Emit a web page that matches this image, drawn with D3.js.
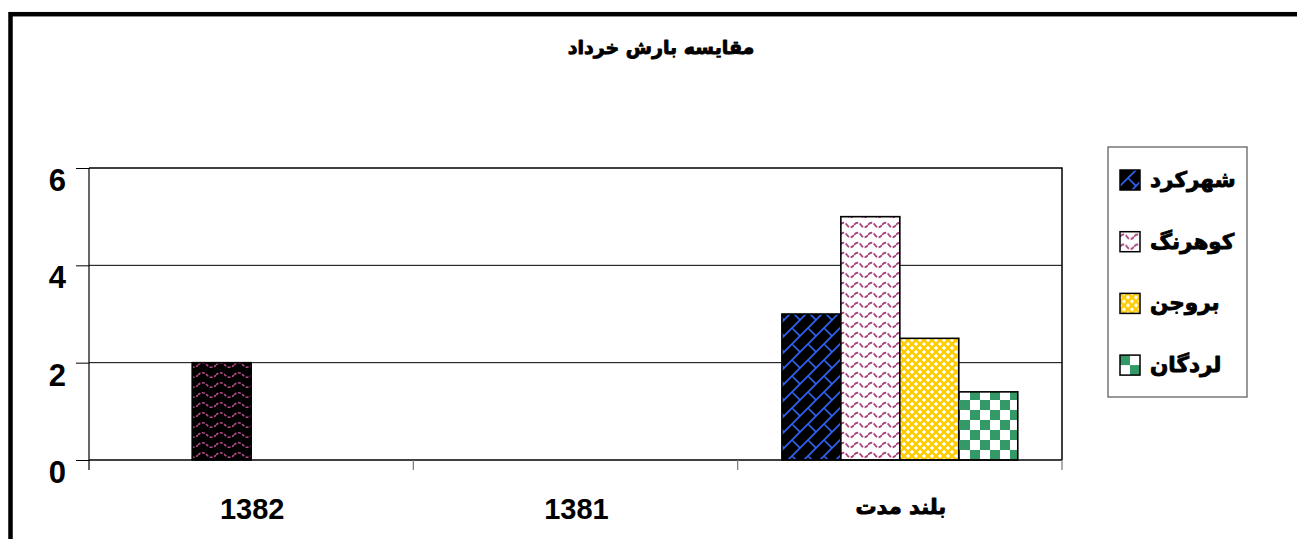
<!DOCTYPE html>
<html><head><meta charset="utf-8">
<script src="https://cdn.jsdelivr.net/npm/d3@7"></script>
<style>html,body{margin:0;padding:0;background:#fff;overflow:hidden}</style>
</head><body>
<svg id="c" width="1297" height="539"></svg>
<script>
const title = "مقایسه بارش خرداد";
const categories = ["1382", "1381", "بلند مدت"];
const seriesNames = ["شهرکرد", "کوهرنگ", "بروجن", "لردگان"];
const shahrekord = [0, 0, 3];
const kouhrang = [2, 0, 5];
const boroujen = [0, 0, 2.5];
const lordegan = [0, 0, 1.4];
const yTicks = [0, 2, 4, 6];
const seriesValues = [shahrekord, kouhrang, boroujen, lordegan];

const svg = d3.select("#c");
const defs = svg.append("defs");

function pat(id, w, h, bg, draw) {
  const p = defs.append("pattern").attr("id", id).attr("patternUnits", "userSpaceOnUse")
    .attr("width", w).attr("height", h);
  p.append("rect").attr("width", w).attr("height", h).attr("fill", bg);
  draw(p);
}
// diagonal brick, blue on black
pat("p0", 16, 16, "#000", p => {
  const add = d => p.append("path").attr("d", d).attr("stroke", "#2f62f5")
    .attr("stroke-width", 1.7).attr("fill", "none");
  add("M-2,18 L18,-2");
  add("M8.5,8.5 L16,16");
  add("M-1,1 L1,-1");
  add("M15,17 L17,15");
});
// waves, magenta on white
pat("p1", 14, 10, "#fff", p => {
  p.append("path").attr("d", "M0,5 C2,2 5,2 7,5 C9,8 12,8 14,5")
    .attr("fill", "none").attr("stroke", "#a8467e").attr("stroke-width", 1.8)
    .attr("stroke-dasharray", "5,1.5");
});
// waves, magenta on black (special point)
pat("p1d", 18, 10, "#000", p => {
  p.append("path").attr("d", "M0,5 C2.5,2 6.5,2 9,5 C11.5,8 15.5,8 18,5")
    .attr("fill", "none").attr("stroke", "#b04a86").attr("stroke-width", 1.6)
    .attr("stroke-dasharray", "3,1.5");
});
// trellis, yellow on white
pat("p2", 8, 8, "#fff", p => {
  p.append("path").attr("d", "M0,0 L8,8 M8,0 L0,8")
    .attr("stroke", "#ffcc00").attr("stroke-width", 2.6);
  p.append("rect").attr("x", 3).attr("y", -1).attr("width", 2).attr("height", 2).attr("fill", "#fff");
});
// checkerboard, green on white
pat("p3", 20, 20, "#fff", p => {
  p.append("rect").attr("x", 0).attr("y", 0).attr("width", 10).attr("height", 10).attr("fill", "#339966");
  p.append("rect").attr("x", 10).attr("y", 10).attr("width", 10).attr("height", 10).attr("fill", "#339966");
});
const fills = ["url(#p0)", "url(#p1)", "url(#p2)", "url(#p3)"];

const arabicFont = "'DejaVu Sans', sans-serif";
const latinFont = "'Liberation Sans', Arial, sans-serif";
const boldAr = sel => sel.attr("font-family", arabicFont).attr("font-weight", "bold")
  .attr("stroke", "#000").attr("stroke-width", 0.9).attr("stroke-linejoin", "round");

// outer frame
svg.append("rect").attr("x", 10.5).attr("y", 14.2).attr("width", 1500).attr("height", 800)
  .attr("fill", "none").attr("stroke", "#000").attr("stroke-width", 4.5);

// title
svg.append("text").attr("x", 661).attr("y", 54).attr("text-anchor", "middle")
  .attr("font-size", 19).call(boldAr).text(title);

const L = 89, R = 1062, T = 168, B = 460;
const x0 = d3.scaleBand().domain(categories).range([L, R]).paddingInner(0).paddingOuter(0);
const x1 = d3.scaleBand().domain(seriesNames).range([0, x0.bandwidth()]).paddingInner(0).paddingOuter(0.75);
const y = d3.scaleLinear().domain([0, 6]).range([B, T]);

// gridlines
svg.append("g").selectAll("line").data(yTicks.filter(v => v > 0 && v < 6)).join("line")
  .attr("x1", L).attr("x2", R).attr("y1", d => y(d)).attr("y2", d => y(d))
  .attr("stroke", "#000").attr("stroke-width", 1);

// bars
const barData = [];
seriesNames.forEach((s, si) => categories.forEach((c, ci) => {
  const v = seriesValues[si][ci];
  if (v > 0) barData.push({s, si, c, ci, v});
}));
svg.append("g").selectAll("rect").data(barData).join("rect")
  .attr("x", d => x0(d.c) + x1(d.s))
  .attr("y", d => y(d.v))
  .attr("width", x1.bandwidth())
  .attr("height", d => y(0) - y(d.v))
  .attr("fill", d => (d.ci === 0 && d.si === 1) ? "url(#p1d)" : fills[d.si])
  .attr("stroke", "#000").attr("stroke-width", 1.6);

// plot border top & right
svg.append("path").attr("d", `M${L},${T} L${R},${T} L${R},${B}`)
  .attr("fill", "none").attr("stroke", "#000").attr("stroke-width", 1.5);

// y axis
const yAxis = svg.append("g").attr("transform", `translate(${L},0)`)
  .call(d3.axisLeft(y).tickValues(yTicks).tickSize(13).tickFormat(""));
yAxis.select(".domain").remove();
yAxis.selectAll("line").attr("stroke", "#000");
svg.append("line").attr("x1", L).attr("x2", L).attr("y1", T).attr("y2", B + 10)
  .attr("stroke", "#000").attr("stroke-width", 1.2);
svg.append("g").selectAll("text").data(yTicks).join("text")
  .attr("x", 66).attr("y", d => y(d) + 23).attr("text-anchor", "end")
  .attr("font-family", latinFont).attr("font-weight", "bold").attr("font-size", 31)
  .text(d => d);

// x axis baseline & ticks
svg.append("line").attr("x1", L).attr("x2", R).attr("y1", B).attr("y2", B)
  .attr("stroke", "#000").attr("stroke-width", 1.6);
const bounds = categories.map(c => x0(c)).concat([R]).slice(1);
svg.append("g").selectAll("line").data(bounds).join("line")
  .attr("x1", d => d).attr("x2", d => d).attr("y1", B).attr("y2", B + 10)
  .attr("stroke", "#777").attr("stroke-width", 1.2);
const xl = svg.append("g").selectAll("text").data(categories).join("text")
  .attr("x", d => x0(d) + x0.bandwidth() / 2 + 1)
  .attr("y", 519)
  .attr("text-anchor", "middle")
  .attr("font-family", latinFont)
  .attr("font-weight", "bold").attr("font-size", 29)
  .text(d => d);
xl.filter((d, i) => i === 2).attr("y", 514).attr("font-size", 21).call(boldAr);

// legend
svg.append("rect").attr("x", 1108).attr("y", 147).attr("width", 139).attr("height", 250)
  .attr("fill", "#fff").attr("stroke", "#555").attr("stroke-width", 1.2);
const lg = svg.append("g").selectAll("g").data(seriesNames).join("g")
  .attr("transform", (d, i) => `translate(1120,${170 + i * 61.7})`);
lg.append("rect").attr("width", 20).attr("height", 20).attr("fill", (d, i) => fills[i])
  .attr("stroke", "#000").attr("stroke-width", 1.5);
lg.append("text").attr("x", 30).attr("y", 17).attr("text-anchor", "start")
  .attr("font-size", 21.5).call(boldAr)
  .text(d => d);
</script>
</body></html>
